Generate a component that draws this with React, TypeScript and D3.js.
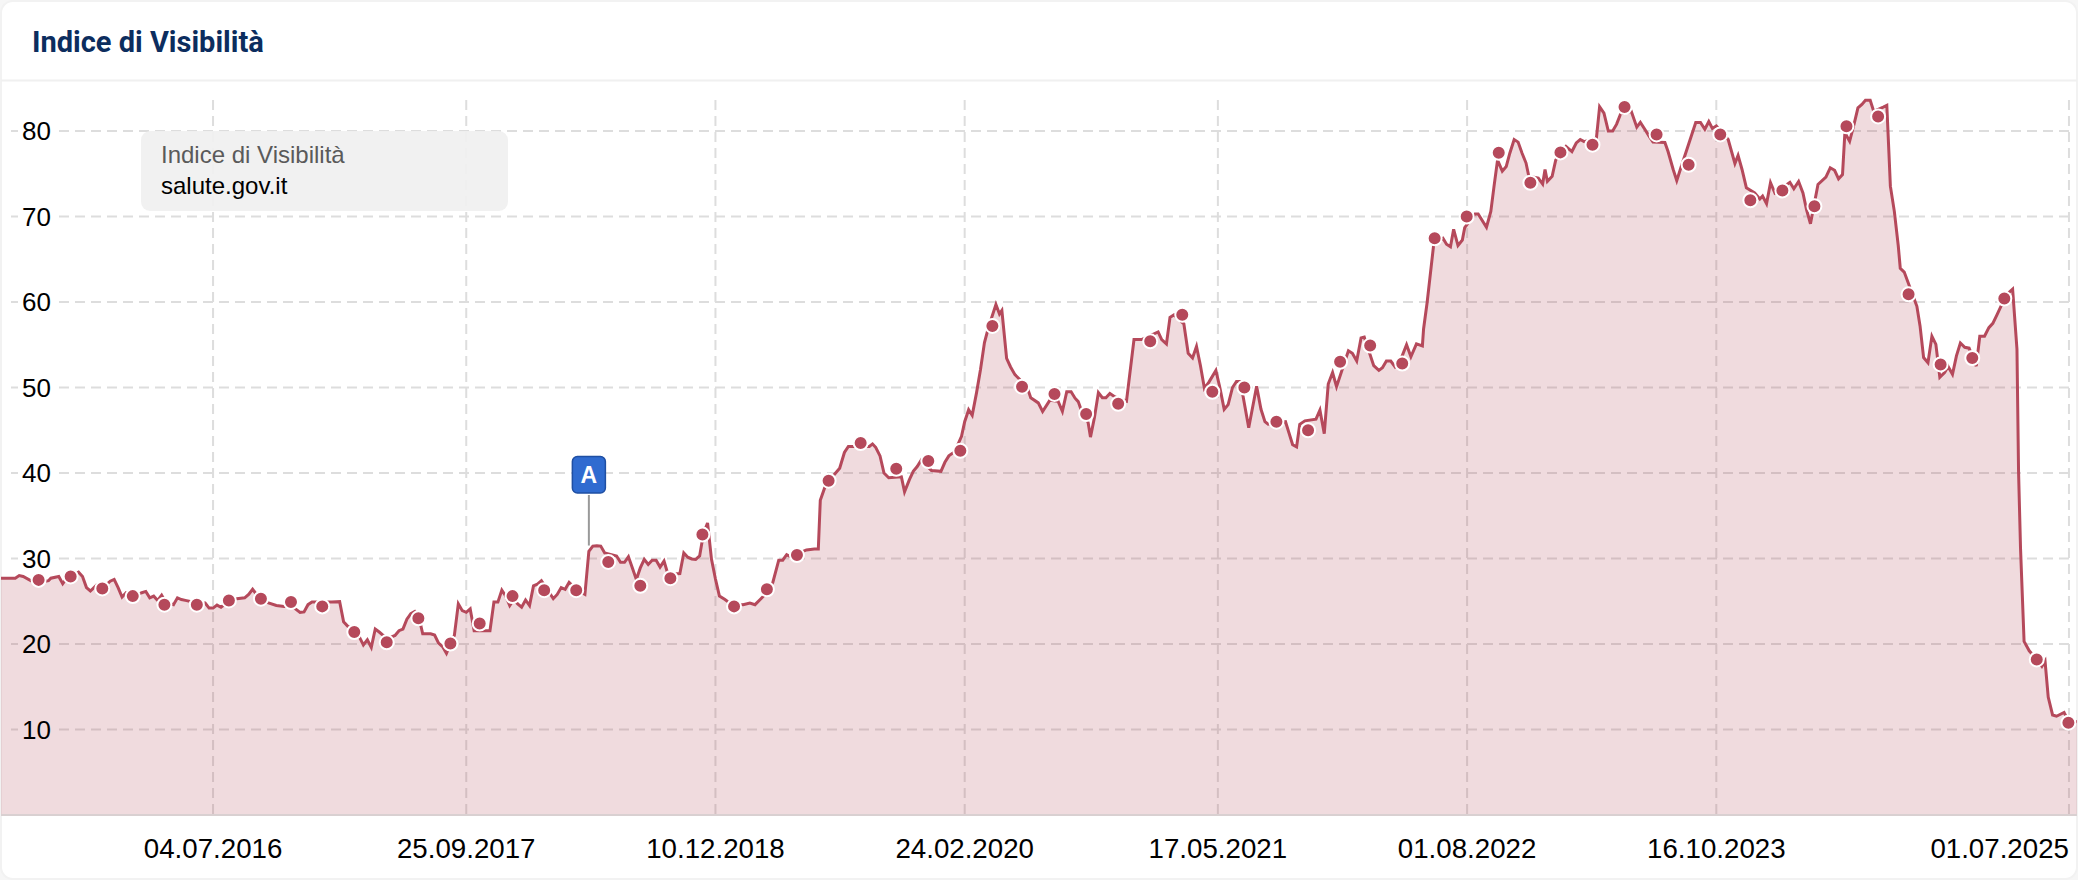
import * as d3 from 'd3'

const TITLE = 'Indice di Visibilità'
const DOMAIN_NAME = 'salute.gov.it'
const FIRST_MONDAY = Date.UTC(2016, 6, 4)
const DAY = 86400000

const xTickDates = ['2016-07-04', '2017-09-25', '2018-12-10', '2020-02-24', '2021-05-17', '2022-08-01', '2023-10-16', '2025-07-01']
const yTicks = [10, 20, 30, 40, 50, 60, 70, 80]

// weeks since 04.07.2016
const lineWeeks = [
  -53.8, -50, -49, -48, -46, -44, -41.6, -41, -39, -38, -37, -36, -34, -33, -32, -31, -29.4, -28, -26, -25,
  -24, -23, -22, -20, -18, -17, -16, -15, -14, -13, -12, -10, -9, -8, -7, -4, -2, -1, 0, 1,
  2, 4, 6, 8, 9, 10, 11, 12, 14, 16, 18, 20, 22, 23, 24, 25, 27, 30, 32, 33,
  34, 36, 37, 38, 39, 40, 41, 42, 43, 44, 45, 46, 47, 48, 49, 50, 51, 52, 53, 55,
  56, 57, 58, 59, 60, 61, 62, 63, 64, 65, 66, 70, 71, 72, 73, 74, 75, 76, 77, 78,
  79, 80, 81, 82, 83, 86, 87, 88, 89, 90, 92, 94, 95, 96, 97, 98, 99, 102, 103, 104,
  105, 106, 107, 108, 109, 110, 111, 112, 113, 114, 115, 118, 119, 120, 121, 122, 123, 124, 125, 126,
  127, 128, 129.4, 130.7, 134, 135.7, 137, 138.3, 140, 141.5, 143, 144, 145, 146, 149, 150, 152, 153, 153.5, 154.7,
  157, 158.4, 159.6, 160.6, 161.8, 165.9, 166.7, 167.5, 168.6, 169.6, 170.8, 174, 174.8, 176, 177, 178, 179, 181.6, 184, 185,
  186, 187.5, 189.2, 190, 191, 191.9, 193, 194, 195, 196, 197.9, 198.8, 199.4, 200.6, 201.6, 202.7, 203.8, 206, 206.7, 208.6,
  209.7, 211.5, 213.6, 214.7, 215.8, 216.9, 217.9, 218.7, 219.4, 221.2, 221.8, 222.8, 223.8, 224.8, 225.7, 226.7, 228, 230.9, 232.8, 234.7,
  238.9, 239.8, 241, 241.9, 242.9, 245.4, 246.5, 247.6, 248.6, 249.6, 250.6, 251.7, 253.5, 254.5, 255.6, 256.6, 257.7, 258.7, 259.7, 261.8,
  263.8, 264.9, 265.9, 266.7, 271.1, 272.9, 273.9, 274.7, 276, 278.8, 279.8, 280.9, 281.9, 283, 284, 287, 288, 289.1, 290.2, 291,
  293.4, 294.7, 295.6, 296.6, 297.7, 298.8, 300, 301.7, 302.8, 304.2, 305.7, 306, 306.9, 308.6, 310.9, 311.8, 312.8, 313.6, 314.7, 315.8,
  316.4, 319, 319.8, 321.9, 323, 323.8, 324.7, 325.9, 326.9, 327.8, 328.9, 329.9, 330.9, 331.9, 332.6, 335, 336.1, 336.7, 337.3, 338.5,
  339.4, 342, 343.5, 344.6, 345.6, 346.6, 349.7, 350.5, 351.6, 352.7, 353.8, 354.8, 355.8, 358.5, 359.9, 360.8, 362, 363, 364, 367,
  367.8, 369.1, 370, 371, 374.8, 376, 377.1, 378.1, 379, 380, 383, 384.7, 385.5, 386.5, 387.6, 389.7, 391, 391.7, 392.7, 393.7,
  394.8, 398.6, 399.6, 400.8, 401.9, 402.8, 403.8, 405.7, 407.7, 408.8, 409.9, 410.9, 411.9, 412.5, 413.7, 414.9, 415.8, 416.8, 417.7, 418.9,
  419.8, 422.2, 423.1, 423.6, 424, 425, 426, 426.5, 427.5, 430.7, 431.5, 432.4, 433.5, 434.5, 435.5, 436.5, 437.7, 438.6, 439.7, 440.7,
  441.7, 442.8, 443.9, 445.7, 446.6, 447.8, 448.9, 449.9, 451, 452, 453.7, 454.9, 456, 456.4, 456.9, 457.8, 459.1, 461, 462.3, 463.1,
  463.9, 465, 466, 467.9, 469, 471.5,
]

const lineValues = [
  27.7, 27.7, 28, 27.9, 27.4, 27.2, 27.4, 27.7, 27.9, 27.05, 27.7, 27.9, 28.4, 27.9, 26.6, 26.2, 26.9, 26.5, 27.35, 27.55,
  26.6, 25.5, 26, 25.6, 26, 26.15, 25.4, 25.6, 25.1, 25.7, 24.9, 24.6, 25.4, 25.2, 25.1, 24.8, 24.8, 24.2, 24.2, 24.55,
  24.3, 25, 25.3, 25.4, 25.8, 26.4, 25.8, 25.3, 24.8, 24.5, 24.4, 24.4, 23.7, 23.75, 24.6, 24.9, 24.9, 24.9, 24.95, 22.6,
  22.1, 21.5, 20.8, 19.9, 20.5, 19.6, 21.75, 21.4, 21, 20.6, 20.8, 21, 21.55, 21.75, 22.9, 23.55, 23.8, 23.2, 21.2, 21.2,
  21.05, 20.1, 19.7, 18.9, 20, 21, 24.7, 23.9, 23.7, 24.1, 21.55, 21.55, 24.9, 24.9, 26.3, 25.6, 24.5, 25.2, 24.7, 24.3,
  25.15, 24.5, 26.8, 27, 27.4, 25.3, 25.8, 26.6, 26.4, 27.2, 26.3, 25.8, 30.85, 31.45, 31.5, 31.45, 30.65, 30.3, 29.55, 29.55,
  30.2, 28.9, 27.55, 28.9, 29.9, 29.3, 29.8, 29.8, 29, 29.7, 28.15, 28.25, 30.65, 30.15, 29.95, 29.9, 30.3, 33, 34.15, 29.9,
  27.6, 25.6, 25.2, 24.75, 24.6, 24.8, 24.6, 25.2, 26, 27.2, 29.8, 29.8, 30.45, 30.2, 30.8, 31, 31.1, 31.1, 36.8, 38.4,
  39.8, 40.55, 42.4, 43.1, 43.1, 43.1, 43.4, 43, 42, 40, 39.45, 39.55, 37.8, 39.2, 40.2, 40.75, 41.5, 40.3, 40.2, 41.25,
  42, 42.5, 44.3, 46, 47.4, 46.75, 49.4, 52.1, 55.25, 57, 59.7, 58.6, 59, 53.4, 52.4, 51.5, 51, 49.75, 48.8, 48.2,
  47.2, 48.5, 48.4, 47.2, 49.5, 49.5, 48.75, 48.35, 47.45, 45.9, 44.2, 46.5, 49.4, 48.8, 48.8, 49.3, 48.9, 48.4, 55.6, 55.6,
  56.5, 55.6, 55.1, 58.2, 58.5, 57.45, 54, 53.45, 54.8, 52.55, 49.9, 50.6, 52, 50, 47.45, 48, 50, 50.7, 50.7, 45.3,
  50.15, 47.45, 46, 45.7, 46, 43.3, 43.05, 45.7, 46.1, 46.3, 47.35, 44.6, 50.4, 51.75, 50.1, 54.3, 54, 53.1, 55.8, 55.9,
  52.55, 52, 52.3, 53.1, 53.1, 52.4, 53, 55, 53.6, 55.1, 54.85, 56.85, 59.95, 66.9, 67.45, 66.75, 66.45, 68.5, 66.6, 67.25,
  68.7, 70.3, 70.3, 68.75, 70.6, 73.5, 76.6, 75.3, 75.85, 77.4, 79, 78.7, 77.4, 76.25, 74.7, 74.5, 73.8, 75.5, 74.1, 74.7,
  76.6, 78.2, 77.6, 78.6, 79, 78.75, 79.2, 82.85, 82.1, 80, 80, 80.8, 82, 82.3, 80.45, 81, 80.15, 79.4, 78.7, 78.65,
  77.6, 75.5, 74.2, 75.65, 81, 81, 80.2, 81.1, 80.3, 80.6, 79, 76.2, 77.15, 75.5, 73.35, 72.75, 72.05, 72.4, 71.5, 73.95,
  72.75, 74, 73.25, 74.1, 72.75, 70.8, 69.15, 73.75, 74.6, 75.7, 75.4, 74.4, 74.9, 79.8, 78.8, 80.95, 82.7, 83.1, 83.6, 83.6,
  82.3, 82.8, 83, 77.8, 73.55, 70.6, 66.55, 63.95, 63.5, 59.5, 57.2, 53.5, 52.9, 56, 55.05, 51.2, 51.75, 52.45, 51.55, 53.7,
  55.2, 54.7, 54.6, 52.5, 56, 56, 57, 57.5, 58.55, 59.55, 61, 61.5, 54.5, 40.2, 31.2, 20.3, 19.2, 18.2, 17.4, 18,
  13.8, 11.7, 11.55, 12, 11, 10.9,
]

const markerWeeks = [
  -44.1, -36, -28, -20.3, -12.3, -4.1, 4, 12.1, 19.7, 27.6, 35.7, 43.9, 51.9, 60, 67.4, 75.7, 83.7, 91.8, 99.9, 108,
  115.6, 123.7, 131.7, 140, 147.6, 155.6, 163.7, 172.7, 180.8, 188.9, 197, 204.5, 212.7, 220.7, 228.8, 236.9, 245, 252.6, 260.7, 268.8,
  276.8, 284.9, 292.5, 300.6, 308.8, 316.9, 325, 333, 340.6, 348.7, 356.8, 364.9, 373, 381, 388.6, 396.7, 404.8, 412.9, 420.9, 428.6,
  436.7, 444.7, 452.8, 461, 469,
]

const markerValues = [
  27.5, 27.9, 26.5, 25.6, 24.6, 24.6, 25.1, 25.3, 24.9, 24.4, 21.4, 20.2, 23, 20.05, 22.4, 25.6, 26.3, 26.3, 29.6, 26.8,
  27.7, 32.8, 24.4, 26.4, 30.4, 39.1, 43.5, 40.5, 41.4, 42.6, 57.2, 50.1, 49.25, 46.9, 48.1, 55.4, 58.5, 49.5, 50, 46,
  45, 53, 54.9, 52.8, 67.45, 70, 77.45, 73.95, 77.5, 78.4, 82.8, 79.6, 76.05, 79.6, 71.9, 73.05, 71.2, 80.55, 81.7, 60.9,
  52.7, 53.45, 60.4, 18.2, 10.8,
]

const EVENT_LABEL = 'A'
const EVENT_WEEK = 95
const EVENT_VALUE = 31.4

const WIDTH = 2078
const HEIGHT = 880
const PLOT_TOP = 100
const PLOT_BOTTOM = 815
const LINE_COLOR = '#b5495b'
const GRID_COLOR = '#dddddd'
const SANS = '"Liberation Sans", Arial, sans-serif'

const weekToDate = (w: number) => new Date(FIRST_MONDAY + w * 7 * DAY)

export default function App() {
  const x = d3.scaleUtc()
    .domain([new Date(Date.UTC(2015, 5, 23)), new Date(Date.UTC(2025, 6, 17))])
    .range([0, WIDTH])
  const y = d3.scaleLinear().domain([0, 80]).range([PLOT_BOTTOM, 131])
  const formatTick = d3.utcFormat('%d.%m.%Y')

  const points = lineWeeks.map((w, i) => ({ date: weekToDate(w), value: lineValues[i] }))
  const markers = markerWeeks.map((w, i) => ({ date: weekToDate(w), value: markerValues[i] }))
  const ticks = xTickDates.map(d => new Date(`${d}T00:00:00Z`))

  const line = d3.line<{ date: Date; value: number }>()
    .x(d => x(d.date))
    .y(d => y(d.value))
  const area = d3.area<{ date: Date; value: number }>()
    .x(d => x(d.date))
    .y0(y(0))
    .y1(d => y(d.value))

  const lastTickX = x(ticks[ticks.length - 1])
  const eventX = x(weekToDate(EVENT_WEEK))

  return (
    <svg
      width={WIDTH}
      height={HEIGHT}
      style={{ position: 'absolute', left: 0, top: 0, display: 'block', background: '#f6f6f6' }}
    >
      <defs>
        <clipPath id="card-clip">
          <rect x={1} y={1} width={WIDTH - 2} height={HEIGHT - 2} rx={12} />
        </clipPath>
      </defs>

      <rect x={1} y={1} width={WIDTH - 2} height={HEIGHT - 2} rx={12} fill="#fff" stroke="#f2f2f2" strokeWidth={2} />

      <text x={32} y={52} fontFamily="Roboto, sans-serif" fontWeight={700} fontSize={29} fill="#0c2d5e">
        {TITLE}
      </text>
      <line x1={1} x2={WIDTH - 1} y1={80.5} y2={80.5} stroke="#f0f0f0" strokeWidth={2} />

      <g clipPath="url(#card-clip)">
        {/* Grid */}
        {yTicks.map(t => (
          <g key={`y-${t}`}>
            <line x1={11} x2={18} y1={y(t)} y2={y(t)} stroke={GRID_COLOR} strokeWidth={2} strokeDasharray="10 6" />
            <line x1={59} x2={lastTickX} y1={y(t)} y2={y(t)} stroke={GRID_COLOR} strokeWidth={2} strokeDasharray="10 6" />
          </g>
        ))}
        {ticks.map(t => (
          <line
            key={`x-${t.getTime()}`}
            x1={x(t)}
            x2={x(t)}
            y1={PLOT_TOP}
            y2={PLOT_BOTTOM}
            stroke={GRID_COLOR}
            strokeWidth={2}
            strokeDasharray="10 6"
          />
        ))}

        {/* Legend box */}
        <rect x={141} y={131} width={367} height={80} rx={9} fill="#f0f0f0" fillOpacity={0.92} />
        <text x={161} y={163} fontFamily={SANS} fontSize={24} fill="#5a5a5a">{TITLE}</text>
        <text x={161} y={194} fontFamily={SANS} fontSize={24} fill="#000">{DOMAIN_NAME}</text>

        {/* Series */}
        <path d={area(points) ?? ''} fill={LINE_COLOR} fillOpacity={0.2} />
        <path d={line(points) ?? ''} fill="none" stroke={LINE_COLOR} strokeWidth={3} strokeLinejoin="miter" />
        <line x1={0} x2={WIDTH} y1={y(0)} y2={y(0)} stroke="#d9d0d1" strokeWidth={2} />

        {markers.map(m => (
          <circle
            key={m.date.getTime()}
            cx={x(m.date)}
            cy={y(m.value)}
            r={7}
            fill={LINE_COLOR}
            stroke="#fff"
            strokeWidth={2}
          />
        ))}

        {/* Event flag */}
        <line x1={eventX} x2={eventX} y1={495} y2={y(EVENT_VALUE) - 1} stroke="#999" strokeWidth={2} />
        <rect x={eventX - 16.5} y={456.5} width={33} height={36.5} rx={5} fill="#2f6bd0" stroke="#1f4fa3" strokeWidth={1.5} />
        <text x={eventX} y={482.5} textAnchor="middle" fontFamily={SANS} fontWeight={700} fontSize={23} fill="#fff">
          {EVENT_LABEL}
        </text>

        {/* Axis labels */}
        {yTicks.map(t => (
          <text key={`yl-${t}`} x={51} y={y(t) + 9} textAnchor="end" fontFamily={SANS} fontSize={26} fill="#000">
            {t}
          </text>
        ))}
        {ticks.map((t, i) => (
          <text
            key={`xl-${t.getTime()}`}
            x={i === ticks.length - 1 ? lastTickX : x(t)}
            y={858}
            textAnchor={i === ticks.length - 1 ? 'end' : 'middle'}
            fontFamily={SANS}
            fontSize={27.7}
            fill="#000"
          >
            {formatTick(t)}
          </text>
        ))}
      </g>
    </svg>
  )
}
